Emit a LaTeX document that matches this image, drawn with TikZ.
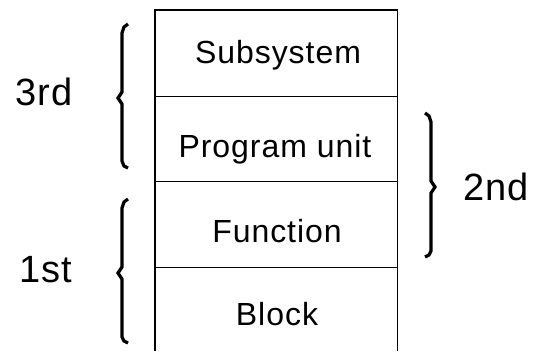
\documentclass[tikz,border=0pt]{standalone}
\usepackage{fontspec}
\setmainfont{Liberation Sans}
\newfontfamily\rowfont[LetterSpace=3]{Liberation Sans}
\newfontfamily\labelfont[LetterSpace=2]{Liberation Sans}
\begin{document}
\begin{tikzpicture}[x=1pt,y=-1pt,
  rowtext/.style={anchor=base,inner sep=0pt,font=\rowfont\fontsize{32}{32}\selectfont},
  levellabel/.style={anchor=base,inner sep=0pt,font=\labelfont\fontsize{38}{38}\selectfont},
  frame/.style={line width=1.4pt},
  bracket/.style={line width=3.2pt,line join=miter}]
\useasboundingbox (0,0) rectangle (533,351);
\fill[white] (0,0) rectangle (533,351);

% stacked rows (open at the bottom)
\coordinate (tl) at (155,10);
\coordinate (tr) at (397.5,10);
\coordinate (bl) at (155,351);
\coordinate (br) at (397.5,351);
\draw[frame] (bl) -- (tl) -- (tr) -- (br);
\draw[frame] (155,96.7) -- (397.5,96.7);
\draw[frame] (155,181.5) -- (397.5,181.5);
\draw[frame] (155,267.7) -- (397.5,267.7);

\node[rowtext] (subsystem) at (278,63) {Subsystem};
\node[rowtext] (program) at (275,157) {Program unit};
\node[rowtext] (function) at (277,242) {Function};
\node[rowtext] (block) at (277,325) {Block};

% braces grouping the levels
\draw[bracket] (128,24) -- (124,27) -- (122,33) -- (122,92) -- (118,98) -- (122,104) -- (122,161) -- (124,166) -- (128,168);
\draw[bracket] (128,199) -- (124,202) -- (122,208) -- (122,267) -- (118,273) -- (122,279) -- (122,337) -- (124,341) -- (128,343);
\draw[bracket] (425,113) -- (429,116) -- (431,122) -- (431,181) -- (435,187) -- (431,193) -- (431,251) -- (429,255) -- (425,257);

\node[levellabel] (third) at (44,105) {3rd};
\node[levellabel] (first) at (46,282) {1st};
\node[levellabel] (second) at (496,200) {2nd};
\end{tikzpicture}
\end{document}
